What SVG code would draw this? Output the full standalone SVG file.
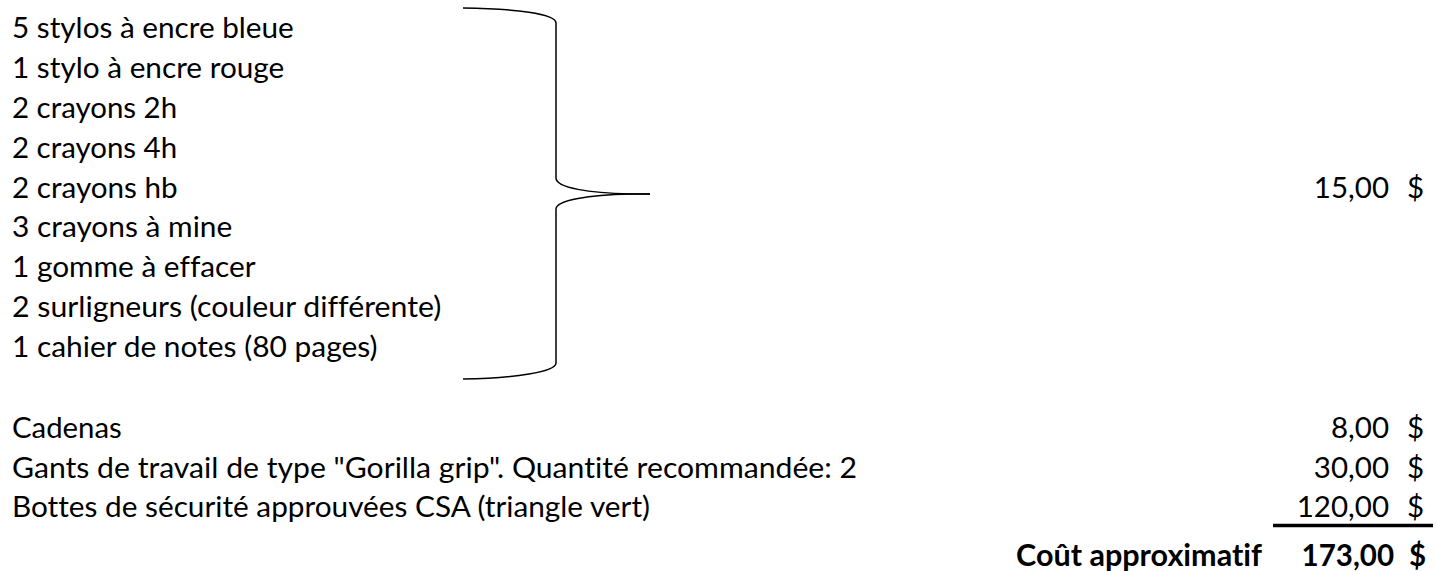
<svg xmlns="http://www.w3.org/2000/svg" width="1436" height="571" viewBox="0 0 1436 571">
<style>
text{font-family:Lato,"Liberation Sans",sans-serif;font-size:29.5px;fill:#000;font-variant-ligatures:none;font-feature-settings:"liga" 0,"dlig" 0}
.r{text-anchor:end}
.b{font-weight:bold}
.brace{fill:none;stroke:#000;stroke-width:1.5}
</style>
<rect width="1436" height="571" fill="#fff"/>
<g id="fournitures">
<text x="12" y="38" textLength="281.7" lengthAdjust="spacingAndGlyphs">5 stylos à encre bleue</text>
<text x="12" y="78" textLength="272.3" lengthAdjust="spacingAndGlyphs">1 stylo à encre rouge</text>
<text x="12" y="118" textLength="165.1" lengthAdjust="spacingAndGlyphs">2 crayons 2h</text>
<text x="12" y="158" textLength="165.1" lengthAdjust="spacingAndGlyphs">2 crayons 4h</text>
<text x="12" y="198" textLength="165.7" lengthAdjust="spacingAndGlyphs">2 crayons hb</text>
<text x="12" y="237" textLength="220.3" lengthAdjust="spacingAndGlyphs">3 crayons à mine</text>
<text x="12" y="277" textLength="243.6" lengthAdjust="spacingAndGlyphs">1 gomme à effacer</text>
<text x="12" y="317" textLength="429.3" lengthAdjust="spacingAndGlyphs">2 surligneurs (couleur différente)</text>
<text x="12" y="357" textLength="365.5" lengthAdjust="spacingAndGlyphs">1 cahier de notes (80 pages)</text>
</g>
<g id="connecteurs">
<path class="brace" d="M463,8 C515,8.5 556,14 556,23 L556,178 C556,188 590,193 630,194 L650,194"/>
<path class="brace" d="M650,194 L630,194 C590,195 556,200 556,209 L556,363 C556,372 515,378 463,379"/>
</g>
<g id="prix-fournitures">
<text class="r" x="1389" y="198">15,00</text>
<text class="r" x="1424" y="198">$</text>
</g>
<g id="cadenas">
<text x="12" y="438" textLength="109.8" lengthAdjust="spacingAndGlyphs">Cadenas</text>
<text class="r" x="1389" y="438">8,00</text>
<text class="r" x="1424" y="438">$</text>
</g>
<g id="gants">
<text x="12" y="478" textLength="845" lengthAdjust="spacingAndGlyphs">Gants de travail de type "Gorilla grip". Quantité recommandée: 2</text>
<text class="r" x="1389" y="478">30,00</text>
<text class="r" x="1424" y="478">$</text>
</g>
<g id="bottes">
<text x="12" y="517" textLength="638" lengthAdjust="spacingAndGlyphs">Bottes de sécurité approuvées CSA (triangle vert)</text>
<text class="r" x="1389" y="517">120,00</text>
<text class="r" x="1424" y="517">$</text>
</g>
<line id="trait-total" x1="1273" y1="525.5" x2="1433" y2="525.5" stroke="#000" stroke-width="3.5"/>
<g id="total">
<text class="r b" x="1262" y="566" textLength="246" lengthAdjust="spacingAndGlyphs">Coût approximatif</text>
<text class="r b" x="1394" y="566">173,00</text>
<text class="r b" x="1426" y="566">$</text>
</g>
</svg>
